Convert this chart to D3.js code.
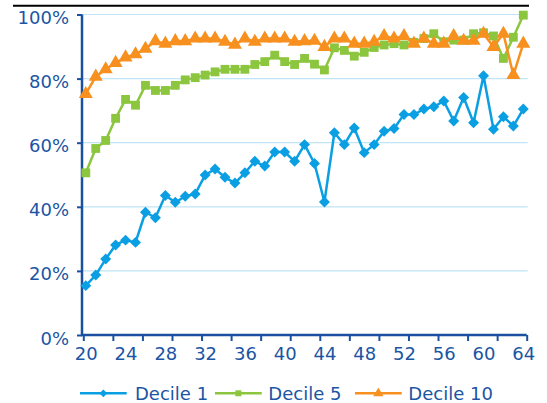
<!DOCTYPE html>
<html><head><meta charset="utf-8">
<script src="https://cdn.jsdelivr.net/npm/d3@7"></script>
<style>
html,body{margin:0;padding:0;background:#fff;}
svg{display:block;}
text{font-family:"DejaVu Sans",Verdana,sans-serif;fill:#1b55a4;}
</style></head>
<body>
<svg id="c" width="547" height="403"></svg>
<script>
const ages = d3.range(20, 65);
const decile1 = [15.4,18.7,23.7,28.1,29.6,28.9,38.3,36.6,43.5,41.4,43.3,44.0,49.9,51.8,49.2,47.4,50.6,54.2,52.7,57.1,57.1,54.2,59.4,53.5,41.5,63.1,59.4,64.6,56.9,59.4,63.6,64.4,68.8,68.8,70.5,71.2,73.0,66.8,74.1,66.2,80.9,64.2,68.1,65.2,70.5];
const decile5 = [50.6,58.2,60.7,67.6,73.5,71.7,77.9,76.3,76.3,77.9,79.6,80.3,81.1,82.1,82.9,82.9,82.9,84.4,85.3,87.3,85.3,84.4,86.3,84.5,82.7,89.6,88.8,87.0,88.2,89.7,90.5,90.9,90.5,91.3,92.5,94.0,91.5,92.0,92.0,94.0,94.3,93.3,86.3,92.9,99.8];
const decile10 = [75.2,80.6,82.9,84.9,86.6,87.6,89.3,91.7,90.9,91.7,91.7,92.5,92.5,92.5,91.5,90.6,92.5,91.5,92.5,92.5,92.5,91.5,91.7,91.8,89.9,92.5,92.5,90.9,90.9,91.5,93.3,92.5,93.3,90.9,92.5,90.9,90.9,93.3,91.8,91.8,94.0,89.9,94.0,81.1,90.9];
const seriesNames = ["Decile 1","Decile 5","Decile 10"];
const xTickLabels = [20,24,28,32,36,40,44,48,52,56,60,64];
const yTickValues = [0,20,40,60,80,100];

const colors = ["#0a9fe2","#8cc63f","#f7901e"];
const axisColor = "#1b4f9f";
const svg = d3.select("#c");

const x = d3.scaleLinear().domain([20,64]).range([85.8,523.3]);
const y = d3.scaleLinear().domain([0,100]).range([335,14.5]);
const xTickScale = d3.scaleLinear().domain([0,15]).range([83.3,526.7]);

// top rule
svg.append("line").attr("x1",13).attr("x2",529).attr("y1",5.7).attr("y2",5.7)
  .attr("stroke","#000").attr("stroke-width",2);

// gridlines
svg.append("g").selectAll("line").data(yTickValues.filter(v=>v>0)).join("line")
  .attr("x1",82).attr("x2",527.7).attr("y1",d=>y(d)).attr("y2",d=>y(d))
  .attr("stroke","#bfe5f6").attr("stroke-width",1.2);

// y axis
const yAxis = svg.append("g").attr("transform","translate(82,0)")
  .call(d3.axisLeft(y).tickValues(yTickValues).tickSize(5).tickFormat(d=>d+"%"));
yAxis.select(".domain").attr("stroke",axisColor).attr("stroke-width",2.5).attr("d","M0,14.5V335");
yAxis.selectAll(".tick line").attr("stroke",axisColor).attr("stroke-width",2);
yAxis.selectAll(".tick text").attr("x",-13).attr("dy","0.5em").style("font-size","18px").attr("fill","#1b55a4");

// x axis tick marks
const xAxisTicks = svg.append("g").attr("transform","translate(0,335)")
  .call(d3.axisBottom(xTickScale).ticks(15).tickSize(6).tickFormat(""));
xAxisTicks.select(".domain").attr("stroke",axisColor).attr("stroke-width",2.5).attr("d","M81,0H526.7");
xAxisTicks.selectAll(".tick line").attr("stroke",axisColor).attr("stroke-width",2);

// x labels
const xLab = svg.append("g").attr("transform","translate(0,335)")
  .call(d3.axisBottom(x).tickValues(xTickLabels).tickSize(0).tickFormat(d3.format("d")));
xLab.select(".domain").remove();
xLab.selectAll(".tick text").attr("y",12).attr("dy","0.71em").style("font-size","18px").attr("fill","#1b55a4");

const allSeries = [decile1, decile5, decile10];
const line = d3.line().x((d,i)=>x(ages[i])).y(d=>y(d));
const markerD = [
  d3.symbol().type(d3.symbolSquare).size(60)(),
  d3.symbol().type(d3.symbolSquare).size(78)(),
  d3.symbol().type(d3.symbolTriangle).size(85)()
];

allSeries.forEach((vals,si)=>{
  const g = svg.append("g");
  g.append("path").datum(vals).attr("d",line).attr("fill","none")
    .attr("stroke",colors[si]).attr("stroke-width",2.5).attr("stroke-linejoin","round");
  g.selectAll("path.m").data(vals).join("path").attr("class","m")
    .attr("transform",(d,i)=>{
      const tx = x(ages[i]), ty = y(d);
      return si===0 ? `translate(${tx},${ty}) rotate(45)` : `translate(${tx},${ty})`;
    })
    .attr("d", markerD[si])
    .attr("fill",colors[si]);
});

// legend
const legendItems = [
  {x1:80, x2:126.7, tx:135},
  {x1:215, x2:261.7, tx:268.3},
  {x1:355, x2:401.7, tx:408.3}
];
const legendD = [
  d3.symbol().type(d3.symbolSquare).size(30)(),
  d3.symbol().type(d3.symbolSquare).size(36)(),
  d3.symbol().type(d3.symbolTriangle).size(45)()
];
const lg = svg.append("g");
legendItems.forEach((it,i)=>{
  const cy = 393.3;
  lg.append("line").attr("x1",it.x1).attr("x2",it.x2).attr("y1",cy).attr("y2",cy)
    .attr("stroke",colors[i]).attr("stroke-width",2.5);
  const cx = (it.x1+it.x2)/2;
  lg.append("path")
    .attr("transform", i===0 ? `translate(${cx},${cy}) rotate(45)` : `translate(${cx},${cy})`)
    .attr("d", legendD[i])
    .attr("fill",colors[i]);
  lg.append("text").attr("x",it.tx).attr("y",399.5).style("font-size","18px").text(seriesNames[i]);
});
</script>
</body></html>
